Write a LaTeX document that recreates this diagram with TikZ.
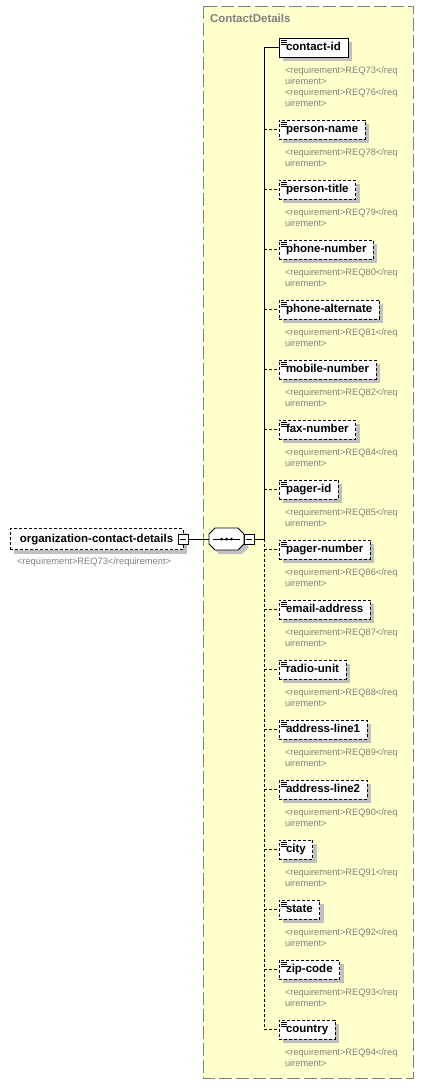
\documentclass[tikz,border=0pt]{standalone}
\usepackage{fontspec}
\setmainfont{Liberation Sans}
\usetikzlibrary{positioning,shadows}
\definecolor{boxyellow}{RGB}{255,255,204}
\definecolor{framegray}{RGB}{128,128,128}
\definecolor{reqgray}{RGB}{128,128,128}
\definecolor{shadowgray}{RGB}{192,192,192}

\begin{document}
\begin{tikzpicture}[x=1pt, y=-1pt, line width=0.8pt, outer sep=0pt,
  shade/.style={general shadow={fill=shadowgray, shadow xshift=4pt, shadow yshift=-4pt}},
  elem/.style={draw, fill=white, anchor=west, shade, minimum height=19pt, inner xsep=7pt, inner ysep=0pt,
    text height=8.5pt, text depth=2.5pt, font=\bfseries\fontsize{11.5}{13}\selectfont,
    path picture={\foreach \d in {2,4,6}
      \draw[solid, line width=0.8pt] ([xshift=2pt,yshift=-\d pt]path picture bounding box.north west) -- ++(6pt,0pt);}},
  opt/.style={elem, dash pattern=on 3pt off 2pt},
  req/.style={anchor=north west, inner sep=0pt, align=left, text=reqgray, font=\fontsize{9.3}{10.8}\selectfont},
  minus/.style={draw, fill=white, minimum size=10pt, inner sep=0pt,
    path picture={\draw[solid] ([xshift=2pt]path picture bounding box.west) -- ([xshift=-2pt]path picture bounding box.east);}},
  seq/.style={minimum width=35pt, minimum height=22pt, inner sep=0pt},
  optconn/.style={dash pattern=on 3pt off 2pt}]
\fill[white] (0,0) rectangle (424,1085);
\useasboundingbox (0,0) rectangle (424,1085);
% group box
\draw[framegray, fill=boxyellow, dash pattern=on 13pt off 4pt] (203,6) rectangle (413,1078);
\node[anchor=west, inner sep=0pt, text=framegray, font=\bfseries\fontsize{11.5}{13}\selectfont] (title) at (210,18) {ContactDetails};

% source element and sequence
\node[draw, fill=white, shade, dash pattern=on 3pt off 2pt, anchor=west, minimum width=173pt, minimum height=21pt, inner sep=0pt,
  text height=8.5pt, text depth=2.5pt, font=\bfseries\fontsize{11.5}{13}\selectfont] (src) at (10,539) {organization-contact-details};
\node[minus] (srcminus) at (src.east) {};
\node[req, below right=8.5pt and 7pt of src.south west] (srcreq) {<requirement>REQ73</requirement>};
\node[seq] (seq) at (226.5,539) {};
\draw[fill=white, shade] ([xshift=6pt]seq.north west) -- ([xshift=-6pt]seq.north east) -- ([yshift=-6pt]seq.north east)
  -- ([yshift=6pt]seq.south east) -- ([xshift=-6pt]seq.south east) -- ([xshift=6pt]seq.south west)
  -- ([yshift=6pt]seq.south west) -- ([yshift=-6pt]seq.north west) -- cycle;
\draw ([xshift=4pt]seq.west) -- ([xshift=-4pt]seq.east);
\foreach \dx in {-5,0,5} \fill ([xshift=\dx pt]seq.center) circle (1.5pt);
\node[minus, right=0pt of seq] (seqminus) {};
\draw (srcminus) -- (seq);
\coordinate (bus) at (264,539);
\draw (seqminus) -- (bus);

\node[elem] (cid) at (279,47.5) {contact-id};
\node[req, below right=10pt and 6pt of cid.south west] (cidreq) {<requirement>REQ73</req\\uirement>\\<requirement>REQ76</req\\uirement>};
\draw (bus |- cid.west) -- (cid.west);
\node[opt, below right=63pt and 0pt of cid.south west] (pname) {person-name};
\node[req, below right=10pt and 6pt of pname.south west] (pnamereq) {<requirement>REQ78</req\\uirement>};
\draw[optconn] (bus |- pname.west) -- (pname.west);
\node[opt, below right=41pt and 0pt of pname.south west] (ptitle) {person-title};
\node[req, below right=10pt and 6pt of ptitle.south west] (ptitlereq) {<requirement>REQ79</req\\uirement>};
\draw[optconn] (bus |- ptitle.west) -- (ptitle.west);
\node[opt, below right=41pt and 0pt of ptitle.south west] (phone) {phone-number};
\node[req, below right=10pt and 6pt of phone.south west] (phonereq) {<requirement>REQ80</req\\uirement>};
\draw[optconn] (bus |- phone.west) -- (phone.west);
\node[opt, below right=41pt and 0pt of phone.south west] (phonealt) {phone-alternate};
\node[req, below right=10pt and 6pt of phonealt.south west] (phonealtreq) {<requirement>REQ81</req\\uirement>};
\draw[optconn] (bus |- phonealt.west) -- (phonealt.west);
\node[opt, below right=41pt and 0pt of phonealt.south west] (mobile) {mobile-number};
\node[req, below right=10pt and 6pt of mobile.south west] (mobilereq) {<requirement>REQ82</req\\uirement>};
\draw[optconn] (bus |- mobile.west) -- (mobile.west);
\node[opt, below right=41pt and 0pt of mobile.south west] (fax) {fax-number};
\node[req, below right=10pt and 6pt of fax.south west] (faxreq) {<requirement>REQ84</req\\uirement>};
\draw[optconn] (bus |- fax.west) -- (fax.west);
\node[opt, below right=41pt and 0pt of fax.south west] (pager) {pager-id};
\node[req, below right=10pt and 6pt of pager.south west] (pagerreq) {<requirement>REQ85</req\\uirement>};
\draw[optconn] (bus |- pager.west) -- (pager.west);
\node[opt, below right=41pt and 0pt of pager.south west] (pagernum) {pager-number};
\node[req, below right=10pt and 6pt of pagernum.south west] (pagernumreq) {<requirement>REQ86</req\\uirement>};
\draw[optconn] (bus |- pagernum.west) -- (pagernum.west);
\node[opt, below right=41pt and 0pt of pagernum.south west] (email) {email-address};
\node[req, below right=10pt and 6pt of email.south west] (emailreq) {<requirement>REQ87</req\\uirement>};
\draw[optconn] (bus |- email.west) -- (email.west);
\node[opt, below right=41pt and 0pt of email.south west] (radio) {radio-unit};
\node[req, below right=10pt and 6pt of radio.south west] (radioreq) {<requirement>REQ88</req\\uirement>};
\draw[optconn] (bus |- radio.west) -- (radio.west);
\node[opt, below right=41pt and 0pt of radio.south west] (addra) {address-line1};
\node[req, below right=10pt and 6pt of addra.south west] (addrareq) {<requirement>REQ89</req\\uirement>};
\draw[optconn] (bus |- addra.west) -- (addra.west);
\node[opt, below right=41pt and 0pt of addra.south west] (addrb) {address-line2};
\node[req, below right=10pt and 6pt of addrb.south west] (addrbreq) {<requirement>REQ90</req\\uirement>};
\draw[optconn] (bus |- addrb.west) -- (addrb.west);
\node[opt, below right=41pt and 0pt of addrb.south west] (city) {city};
\node[req, below right=10pt and 6pt of city.south west] (cityreq) {<requirement>REQ91</req\\uirement>};
\draw[optconn] (bus |- city.west) -- (city.west);
\node[opt, below right=41pt and 0pt of city.south west] (state) {state};
\node[req, below right=10pt and 6pt of state.south west] (statereq) {<requirement>REQ92</req\\uirement>};
\draw[optconn] (bus |- state.west) -- (state.west);
\node[opt, below right=41pt and 0pt of state.south west] (zip) {zip-code};
\node[req, below right=10pt and 6pt of zip.south west] (zipreq) {<requirement>REQ93</req\\uirement>};
\draw[optconn] (bus |- zip.west) -- (zip.west);
\node[opt, below right=41pt and 0pt of zip.south west] (country) {country};
\node[req, below right=10pt and 6pt of country.south west] (countryreq) {<requirement>REQ94</req\\uirement>};
\draw[optconn] (bus |- country.west) -- (country.west);

% vertical bus
\draw (bus |- cid.west) -- (bus);
\draw[optconn] (bus) -- (bus |- country.west);
\end{tikzpicture}
\end{document}
